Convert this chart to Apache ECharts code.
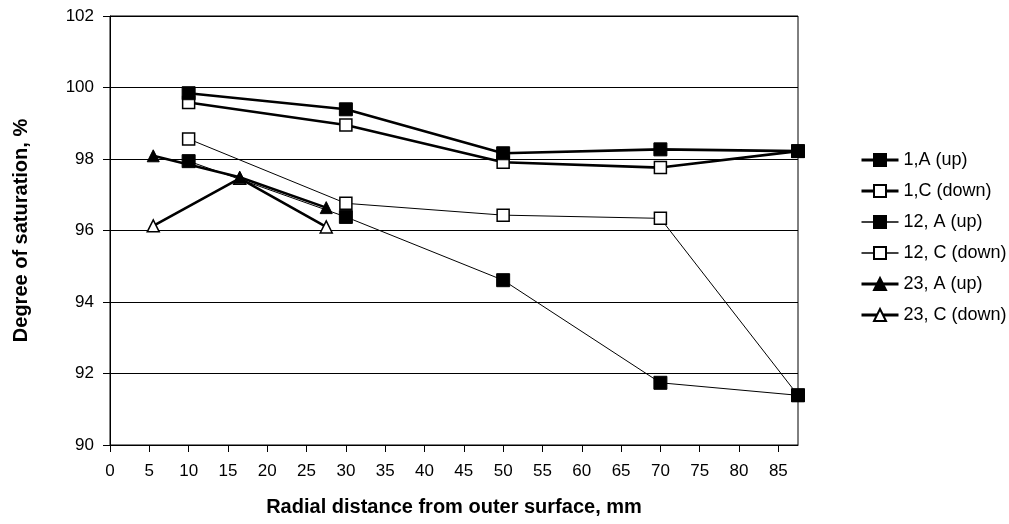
<!DOCTYPE html>
<html>
<head>
<meta charset="utf-8">
<script src="https://cdn.jsdelivr.net/npm/echarts@6/dist/echarts.min.js"></script>
<style>
  html, body { margin: 0; padding: 0; background: #fff; }
  #chart { width: 1009px; height: 524px; }
</style>
</head>
<body>
<div id="chart"></div>
<script>
// Radial distance (mm) of each sampling point
const xCore = [10, 30, 50, 70, 87.5];
const xShort = [5.5, 16.5, 27.5];

// Degree of saturation (%) per core / direction
const s1A = [99.84, 99.39, 98.16, 98.27, 98.22];
const s1C = [99.58, 98.95, 97.91, 97.76, 98.22];
const s12A = [97.94, 96.38, 94.61, 91.74, 91.39];
const s12C = [98.56, 96.76, 96.43, 96.34, 91.39];
const s23A = [98.09, 97.49, 96.64];
const s23C = [96.13, 97.46, 96.10];

const seriesNames = ['1,A (up)', '1,C (down)', '12, A (up)', '12, C (down)', '23, A (up)', '23, C (down)'];
const lineWidths = [2.6, 2.6, 1, 1, 2.6, 2.6];
const xTickValues = [0, 5, 10, 15, 20, 25, 30, 35, 40, 45, 50, 55, 60, 65, 70, 75, 80, 85];

const FONT = '"Liberation Sans", Arial, Helvetica, sans-serif';

function pairs(xs, ys) {
  return xs.map((x, i) => [x, ys[i]]);
}

function mkSeries(idx, xs, ys, symbol, filled, size) {
  return {
    name: seriesNames[idx],
    type: 'line',
    data: pairs(xs, ys),
    symbol: symbol,
    symbolSize: size,
    showAllSymbol: true,
    z: filled ? 4 : 3,
    lineStyle: { color: '#000', width: lineWidths[idx] },
    itemStyle: filled
      ? { color: '#000', borderColor: '#000', borderWidth: 1 }
      : { color: '#fff', borderColor: '#000', borderWidth: 1.5 },
    emphasis: { disabled: true },
    animation: false
  };
}

const chart = echarts.init(document.getElementById('chart'), null, { renderer: 'canvas' });

chart.setOption({
  backgroundColor: '#fff',
  animation: false,
  textStyle: { fontFamily: FONT, color: '#000' },
  grid: {
    left: 110, right: 211, top: 16, bottom: 79,
    show: true, borderColor: '#000', borderWidth: 1, backgroundColor: 'transparent'
  },
  legend: {
    data: seriesNames.map((n, i) => ({ name: n, lineStyle: { color: '#000', width: lineWidths[i] + 0.4 } })),
    orient: 'vertical',
    left: 855,
    top: 146,
    itemWidth: 37,
    itemHeight: 15,
    itemGap: 13,
    textStyle: { fontFamily: FONT, fontSize: 18, color: '#000' },
    selectedMode: false
  },
  xAxis: {
    type: 'value',
    min: 0,
    max: 87.5,
    interval: 5,
    name: 'Radial distance from outer surface, mm',
    nameLocation: 'middle',
    nameGap: 52,
    nameTextStyle: { fontFamily: FONT, fontSize: 20, fontWeight: 'bold', color: '#000' },
    axisLine: { show: true, onZero: false, lineStyle: { color: '#000', width: 1 } },
    axisTick: { show: true, length: 7, lineStyle: { color: '#000' }, customValues: xTickValues },
    axisLabel: { fontFamily: FONT, fontSize: 17, color: '#000', margin: 18, customValues: xTickValues },
    splitLine: { show: false }
  },
  yAxis: {
    type: 'value',
    min: 90,
    max: 102,
    interval: 2,
    name: 'Degree of saturation, %',
    nameLocation: 'middle',
    nameGap: 79,
    nameTextStyle: { fontFamily: FONT, fontSize: 20, fontWeight: 'bold', color: '#000' },
    axisLine: { show: true, lineStyle: { color: '#000', width: 1 } },
    axisTick: { show: true, length: 7, lineStyle: { color: '#000' } },
    axisLabel: { fontFamily: FONT, fontSize: 17, color: '#000', margin: 16 },
    splitLine: { show: true, lineStyle: { color: '#000', width: 1 } }
  },
  series: [
    mkSeries(0, xCore, s1A, 'rect', true, 13),
    mkSeries(1, xCore, s1C, 'rect', false, 12),
    mkSeries(2, xCore, s12A, 'rect', true, 13),
    mkSeries(3, xCore, s12C, 'rect', false, 12),
    mkSeries(4, xShort, s23A, 'triangle', true, 12),
    mkSeries(5, xShort, s23C, 'triangle', false, 12)
  ]
});
</script>
</body>
</html>
